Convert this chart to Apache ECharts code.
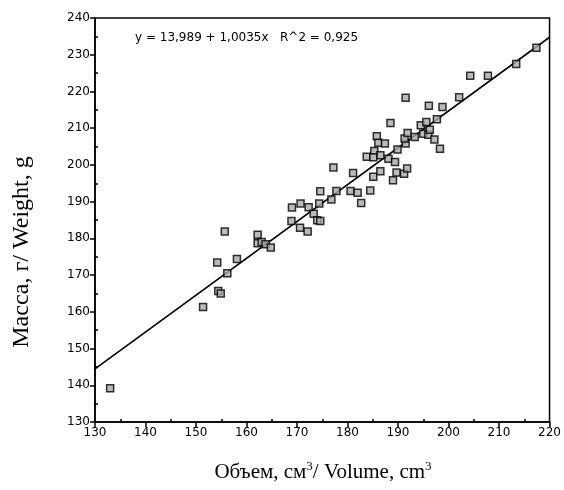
<!DOCTYPE html>
<html>
<head>
<meta charset="utf-8">
<script src="https://cdn.jsdelivr.net/npm/echarts@6/dist/echarts.min.js"></script>
<style>
  html, body { margin: 0; padding: 0; background: #fff; }
  #chart { width: 564px; height: 490px; }
</style>
</head>
<body>
<div id="chart"></div>
<script>
// volume (cm3) values
const volume = [
  133.0, 151.4, 154.2, 154.4, 154.9, 155.7, 156.2, 158.1, 162.2, 162.2,
  163.0, 163.8, 164.8, 168.9, 169.0, 170.6, 170.7, 172.1, 172.3, 173.3,
  174.0, 174.6, 174.4, 174.6, 176.8, 177.2, 177.8, 180.6, 181.1, 182.0,
  182.7, 184.5, 183.8, 185.1, 185.3, 185.8, 186.1, 187.4, 186.5, 186.5,
  185.1, 188.1, 188.5, 189.0, 189.4, 189.7, 189.9, 191.2, 191.5, 191.8,
  191.3, 191.5, 191.9, 193.3, 194.5, 195.0, 195.6, 196.0, 196.1, 196.3,
  197.2, 197.7, 198.3, 198.8, 202.1, 204.3, 207.8, 213.4, 217.4
];
// weight (g) values, same order
const weight = [
  139.2, 161.3, 173.4, 165.7, 165.0, 181.9, 170.5, 174.4, 181.0, 178.7,
  179.0, 178.4, 177.5, 184.7, 188.4, 182.9, 189.5, 181.9, 188.5, 186.7,
  184.9, 184.7, 189.5, 192.8, 190.6, 199.3, 192.9, 192.9, 197.8, 192.4,
  189.6, 193.0, 202.2, 196.8, 203.8, 207.8, 206.0, 205.8, 202.6, 198.3,
  202.1, 201.7, 211.4, 195.8, 200.8, 197.9, 204.2, 197.6, 205.8, 199.0,
  207.2, 218.3, 208.7, 207.6, 210.8, 208.5, 211.7, 208.2, 216.1, 209.6,
  206.9, 212.4, 204.4, 215.8, 218.4, 224.3, 224.3, 227.5, 231.9
];
// regression from the caption: y = a + b x
const fitIntercept = 13.989;
const fitSlope = 1.0035;
const fitR2 = 0.925;
const fitRange = [130, 220];

const points = volume.map((v, i) => [v, weight[i]]);
const fitLine = fitRange.map(x => [x, fitIntercept + fitSlope * x]);
const fmt = (n) => String(n).replace('.', ',');

const chart = echarts.init(document.getElementById('chart'));

const tickFont = { fontFamily: 'DejaVu Sans', fontSize: 12, color: '#000', margin: 5 };

chart.setOption({
  animation: false,
  backgroundColor: '#fff',
  grid: {
    left: 95, right: 12, top: 18, bottom: 68,
    show: true, borderColor: '#000', borderWidth: 1.5
  },
  xAxis: {
    type: 'value',
    min: 130, max: 220, interval: 10,
    axisLine: { lineStyle: { color: '#000', width: 1.5 } },
    axisTick: { length: 5, lineStyle: { color: '#000', width: 1.5 } },
    minorTick: { show: true, splitNumber: 2, length: -3, lineStyle: { color: '#000', width: 1.5 } },
    axisLabel: tickFont,
    splitLine: { show: false }
  },
  yAxis: {
    type: 'value',
    min: 130, max: 240, interval: 10,
    axisLine: { lineStyle: { color: '#000', width: 1.5 } },
    axisTick: { length: 5, lineStyle: { color: '#000', width: 1.5 } },
    minorTick: { show: true, splitNumber: 2, length: -3, lineStyle: { color: '#000', width: 1.5 } },
    axisLabel: tickFont,
    splitLine: { show: false }
  },
  graphic: [
    {
      type: 'text',
      left: 135, top: 32,
      style: {
        text: 'y = ' + fmt(fitIntercept) + ' + ' + fmt(fitSlope) + 'x   R^2 = ' + fmt(fitR2),
        fontFamily: 'DejaVu Sans', fontSize: 12, fill: '#000'
      }
    },
    {
      // x axis title
      type: 'text',
      x: 323, y: 472,
      style: {
        text: 'Объем, см{s|3}/ Volume, cm{s|3}',
        fontFamily: 'Liberation Serif', fontSize: 21, fill: '#000',
        align: 'center', verticalAlign: 'middle',
        rich: { s: { fontFamily: 'Liberation Serif', fontSize: 13, verticalAlign: 'top', padding: [0, 0, 10, 0] } }
      }
    },
    {
      // y axis title
      type: 'text',
      x: 22, y: 252,
      rotation: Math.PI / 2,
      style: {
        text: 'Масса, г/ Weight, g',
        fontFamily: 'Liberation Serif', fontSize: 24, fill: '#000',
        align: 'center', verticalAlign: 'middle'
      }
    }
  ],
  series: [
    {
      type: 'line',
      data: fitLine,
      symbol: 'none',
      lineStyle: { color: '#000', width: 1.6 },
      z: 2
    },
    {
      type: 'scatter',
      data: points,
      symbol: 'rect',
      symbolSize: 7,
      itemStyle: { color: '#aaa', borderColor: '#000', borderWidth: 1.5 },
      z: 3
    }
  ]
});
</script>
</body>
</html>
